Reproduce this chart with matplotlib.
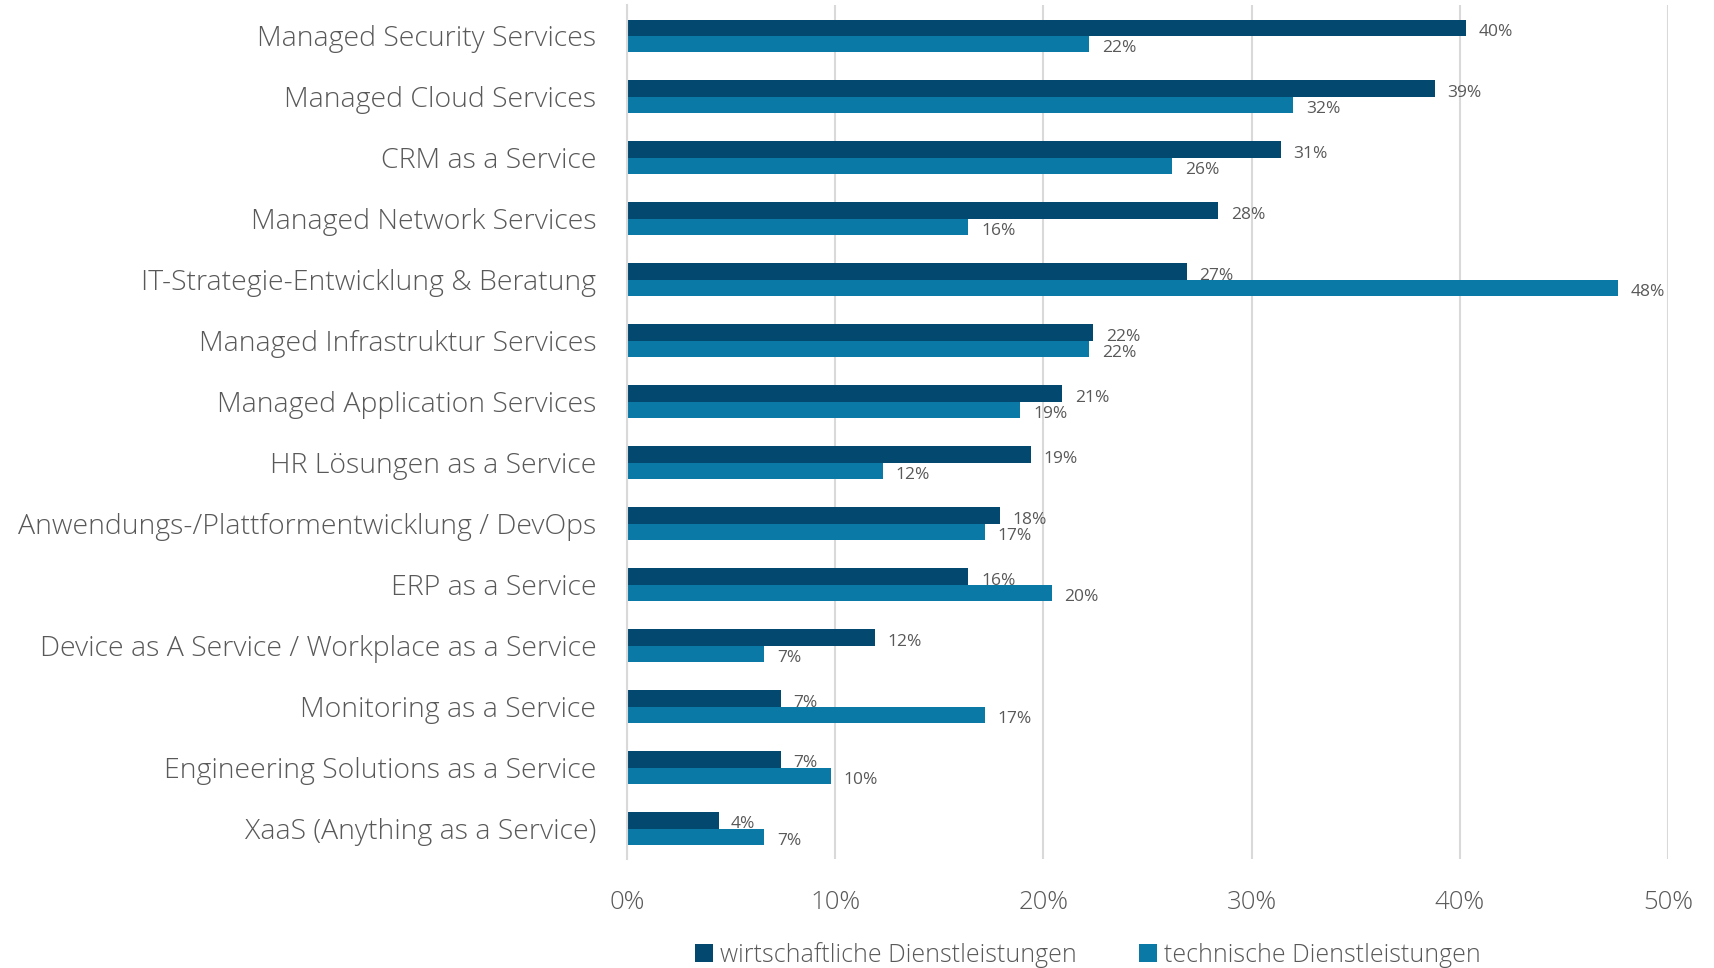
import matplotlib.pyplot as plt
import numpy as np

plt.rcParams['font.family'] = ['Open Sans', 'DejaVu Sans']
plt.rcParams['font.weight'] = 'light'

# Categories from top to bottom
categories = [
    'Managed Security Services',
    'Managed Cloud Services',
    'CRM as a Service',
    'Managed Network Services',
    'IT-Strategie-Entwicklung & Beratung',
    'Managed Infrastruktur Services',
    'Managed Application Services',
    'HR Lösungen as a Service',
    'Anwendungs-/Plattformentwicklung / DevOps',
    'ERP as a Service',
    'Device as A Service / Workplace as a Service',
    'Monitoring as a Service',
    'Engineering Solutions as a Service',
    'XaaS (Anything as a Service)',
]
wirtschaftlich = [40.3, 38.8, 31.4, 28.4, 26.9, 22.4, 20.9, 19.4, 17.9, 16.4, 11.9, 7.4, 7.4, 4.4]
technisch = [22.2, 32.0, 26.2, 16.4, 47.6, 22.2, 18.9, 12.3, 17.2, 20.4, 6.6, 17.2, 9.8, 6.6]
series_names = ['wirtschaftliche Dienstleistungen', 'technische Dienstleistungen']

dark = '#03486E'
light = '#0A79A6'
grey = '#595959'

fig = plt.figure(figsize=(17.15, 9.68), dpi=100)
ax = fig.add_axes([627 / 1715, 1 - 859 / 968, (1668 - 627) / 1715, (859 - 5.5) / 968])

y = np.arange(len(categories))
h = 0.27
b1 = ax.barh(y - h / 2, wirtschaftlich, height=h, color=dark, label=series_names[0])
b2 = ax.barh(y + h / 2, technisch, height=h, color=light, label=series_names[1])

# value labels
for bars, vals in [(b1, wirtschaftlich), (b2, technisch)]:
    for bar, v in zip(bars, vals):
        ax.annotate(f'{round(v)}%', (v, bar.get_y() + bar.get_height() / 2),
                    xytext=(9, -3), textcoords='offset points',
                    va='center', ha='left', fontsize=12.5, color=grey,
                    fontweight='normal')

ax.set_ylim(len(categories) - 0.5, -0.5)
ax.set_xlim(0, 50)
ax.set_xticks(np.arange(0, 51, 10))
ax.set_xticklabels([f'{t}%' for t in range(0, 51, 10)])
ax.set_yticks(y)
ax.set_yticklabels(categories)

ax.tick_params(axis='y', length=0, pad=22, labelsize=20.5, labelcolor=grey)
ax.tick_params(axis='x', length=0, pad=22, labelsize=18.5, labelcolor=grey)

ax.grid(axis='x', color='#D9D9D9', linewidth=1.5)
ax.set_axisbelow(True)
for s in ['top', 'right', 'bottom']:
    ax.spines[s].set_visible(False)
ax.spines['left'].set_color('#D9D9D9')
ax.spines['left'].set_linewidth(1.5)

fig.legend(loc='center', bbox_to_anchor=(0.6345, 0.0135), ncol=2, frameon=False,
           fontsize=18, labelcolor=grey, handlelength=0.7, handleheight=0.7,
           handletextpad=0.3, columnspacing=2.5)

fig.savefig('out.png', dpi=100)
